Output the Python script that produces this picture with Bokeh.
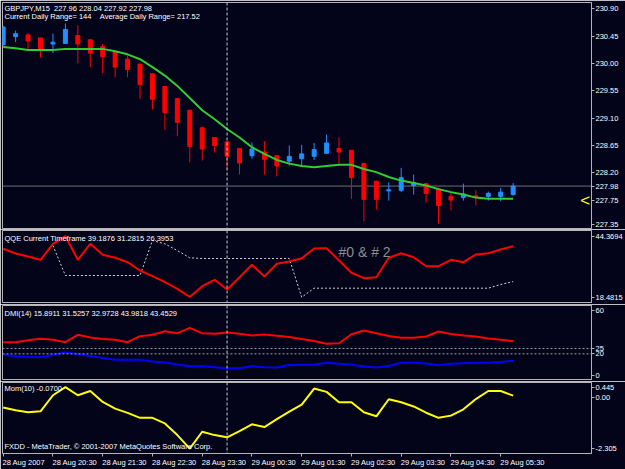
from bokeh.plotting import figure
from bokeh.layouts import column
from bokeh.models import (ColumnDataSource, Range1d, FixedTicker, Span, Label)
from bokeh.core.properties import value
from bokeh.embed import file_html
from bokeh.resources import INLINE

# ---------------- data ----------------
date_ticks = [0, 4, 8, 12, 16, 20, 24, 28, 32, 36, 40]
date_labels = ["28 Aug 2007", "28 Aug 20:30", "28 Aug 21:30", "28 Aug 22:30", "28 Aug 23:30",
               "29 Aug 00:30", "29 Aug 01:30", "29 Aug 02:30", "29 Aug 03:30", "29 Aug 04:30",
               "29 Aug 05:30"]
day_separator = 18  # 29 Aug 00:00

opens = [230.31, 230.44, 230.47, 230.42, 230.32, 230.33, 230.46, 230.39, 230.28, 230.19, 230.07,
         229.99, 229.83, 229.62, 229.42, 229.23, 228.94, 228.78, 228.71, 228.60, 228.48, 228.54,
         228.48, 228.39, 228.43, 228.47, 228.52, 228.60, 228.57, 228.35, 228.06, 227.90, 227.91,
         227.99, 228.02, 227.93, 227.81, 227.79, 227.82, 227.81, 227.81, 227.84]
highs = [230.62, 230.54, 230.50, 230.42, 230.49, 230.66, 230.63, 230.39, 230.32, 230.21, 230.13,
         229.99, 229.83, 229.62, 229.42, 229.23, 228.96, 228.78, 228.71, 228.60, 228.70, 228.72,
         228.48, 228.65, 228.66, 228.69, 228.83, 228.78, 228.57, 228.35, 228.06, 228.04, 228.28,
         228.17, 228.02, 227.95, 227.88, 228.02, 227.91, 227.89, 227.95, 228.03]
lows = [230.29, 230.35, 230.24, 230.10, 230.17, 230.32, 230.00, 229.94, 229.84, 229.77, 229.77,
        229.42, 229.24, 228.91, 228.80, 228.37, 228.40, 228.53, 228.25, 228.17, 228.43, 228.17,
        228.14, 228.32, 228.32, 228.41, 228.51, 228.35, 227.77, 227.40, 227.59, 227.74, 227.88,
        227.84, 227.71, 227.36, 227.58, 227.74, 227.66, 227.74, 227.73, 227.82]
closes = [230.60, 230.49, 230.37, 230.24, 230.35, 230.56, 230.32, 230.17, 230.11, 229.94, 229.90,
          229.65, 229.41, 229.19, 229.03, 228.63, 228.59, 228.65, 228.47, 228.36, 228.59, 228.42,
          228.31, 228.47, 228.51, 228.58, 228.69, 228.54, 228.12, 227.76, 227.76, 227.92, 228.12,
          228.04, 227.86, 227.66, 227.75, 227.85, 227.81, 227.86, 227.88, 227.98]
ma = [230.27, 230.25, 230.22, 230.22, 230.22, 230.24, 230.24, 230.24, 230.24, 230.20, 230.15,
      230.07, 229.94, 229.80, 229.63, 229.43, 229.23, 229.08, 228.92, 228.78, 228.62, 228.51,
      228.41, 228.35, 228.31, 228.29, 228.31, 228.33, 228.33, 228.26, 228.21, 228.13, 228.07,
      228.03, 227.99, 227.93, 227.88, 227.84, 227.79, 227.77, 227.77, 227.77]
bid_price = 227.98
price_ticks = [230.90, 230.45, 230.00, 229.55, 229.10, 228.65, 228.20, 227.75, 227.35]
price_tick_labels = ["230.90", "230.45", "230.00", "229.55", "229.10", "228.65", "228.20",
                     "227.75", "227.35"]
bid_label = "227.98"
arrow_index = 46.8
arrow_price = 227.74

nan = float("nan")
qqe_main = [39.02, 37.03, 35.75, 34.35, 41.14, 44.37, 34.35, 41.14, 36.48, 35.20, 33.34, 29.81,
            27.39, 24.85, 22.05, 18.60, 23.15, 25.87, 21.75, 26.97, 32.23, 27.27, 32.66, 33.63,
            35.03, 39.15, 39.28, 34.06, 28.84, 26.55, 26.97, 35.20, 37.16, 35.46, 31.64, 31.64,
            34.35, 33.34, 36.60, 37.16, 38.73, 40.13]
qqe_trail = [nan, nan, nan, nan, 40.42, 27.69, 27.69, 27.69, 27.69, 27.69, 27.69, 27.69, 42.55,
             41.14, 38.30, 35.20, 34.91, 34.91, 34.91, 34.91, 34.91, 34.91, 34.91, 34.91, 18.48,
             22.30, 22.30, 22.30, 22.30, 22.30, 22.30, 22.30, 22.30, 22.30, 22.30, 22.30, 22.30,
             22.30, 22.30, 22.30, 23.87, 25.14]
qqe_ticks = [44.3694, 18.4815]
qqe_tick_labels = ["44.3694", "18.4815"]

dmi_red = [30.75, 30.75, 32.59, 33.89, 32.96, 30.75, 37.58, 35.09, 33.70, 32.96, 30.75, 36.29,
           37.58, 40.90, 39.06, 44.04, 39.06, 38.50, 39.70, 38.50, 36.93, 37.86, 36.75, 35.55,
           33.70, 31.86, 29.27, 29.82, 38.04, 41.55, 39.06, 36.47, 34.81, 34.81, 36.01, 40.63,
           38.32, 36.93, 36.01, 34.16, 32.96, 31.67]
dmi_blue = [19.11, 17.82, 17.36, 16.90, 19.11, 21.24, 19.85, 18.01, 16.16, 14.50, 14.50, 14.50,
            12.93, 12.00, 10.16, 8.59, 8.59, 7.66, 6.74, 6.74, 8.59, 7.57, 7.39, 9.70, 9.88, 9.88,
            11.73, 10.80, 9.88, 8.31, 7.39, 8.77, 11.73, 11.73, 11.08, 9.42, 10.80, 11.27, 11.73,
            11.73, 12.47, 13.57]
dmi_levels = [25, 20]
dmi_ticks = [60, 25, 20, 0]

mom = [-0.47, -0.59, -0.68, -0.64, 0.08, 0.445, 0.08, 0.27, -0.22, -0.52, -0.71, -0.93, -0.93,
       -1.18, -1.70, -2.305, -1.55, -1.70, -1.80, -1.52, -1.22, -1.34, -0.99, -0.65, -0.34, 0.38,
       0.23, -0.23, -0.23, -0.68, -0.86, -0.10, -0.23, -0.42, -0.70, -0.93, -0.83, -0.55, -0.09,
       0.27, 0.27, 0.06]
mom_ticks = [0.445, 0, -2.305]
mom_tick_labels = ["0.445", "0.00", "-2.305"]

header1 = "GBPJPY,M15\u00a0\u00a0227.96 228.04 227.92 227.98"
header2 = "Current Daily Range= 144\u00a0\u00a0\u00a0\u00a0Average Daily Range= 217.52"
qqe_title = "QQE Current Timeframe 39.1876 31.2815 26.3953"
qqe_note = "#0 & # 2"
dmi_title = "DMI(14) 15.8911 31.5257 32.9728 43.9818 43.4529"
mom_title = "Mom(10) -0.0700"
footer = "FXDD - MetaTrader, \u00a9 2001-2007 MetaQuotes Software Corp."

# ---------------- style ----------------
BG = "#03031a"
FRAME = "#b4b4b4"
TXT = "#ffffff"
FONT = "Liberation Sans"
UP = "#1e90ff"
DOWN = "#ff0000"
W = 625
x_range = Range1d(-0.056, 47.3)
idx = list(range(len(opens)))

# approximate Arial/Liberation advance widths (em) for left-aligning date labels
_adv = {c: 0.556 for c in "0123456789ug"}
_adv.update({" ": 0.278, ":": 0.278, "A": 0.667})


def left_aligned(s, first=False):
    if first:  # label at the canvas edge is clamped into view by Bokeh
        return "\u00a0" + s
    w = sum(_adv.get(c, 0.556) for c in s)
    return "\u00a0" * int(round(w / 0.278)) + s


def make_fig(height, yr, top, bottom, bottom_axis=False):
    p = figure(width=W, height=height, x_range=x_range, y_range=yr,
               output_backend="svg", toolbar_location=None,
               x_axis_location="below" if bottom_axis else None,
               y_axis_location="right")
    p.background_fill_color = BG
    p.border_fill_color = BG
    p.outline_line_color = FRAME
    p.outline_line_width = 1
    p.min_border_left = 2
    p.min_border_right = 31
    p.min_border_top = top
    p.min_border_bottom = bottom
    p.grid.visible = False
    ax = p.yaxis[0]
    ax.axis_line_color = FRAME
    ax.major_tick_line_color = FRAME
    ax.major_tick_out = 3
    ax.major_tick_in = 0
    ax.minor_tick_line_color = None
    ax.major_label_standoff = 1
    ax.major_label_text_color = TXT
    ax.major_label_text_font = FONT
    ax.major_label_text_font_size = "7.5px"
    p.add_layout(Span(location=day_separator, dimension="height", line_color="#c8c8c8",
                      line_dash="3 2", line_width=1))
    return p


def add_label(p, text, x, y, size="7.5px", color=TXT):
    p.add_layout(Label(x=x, y=y, x_units="screen", y_units="screen", text=text,
                       text_color=color, text_font=FONT, text_font_size=size,
                       text_baseline="middle"))


# ---------------- main price panel ----------------
p1 = make_fig(229, Range1d(227.281, 231.004), 2, 1)
p1.yaxis.ticker = FixedTicker(ticks=price_ticks + [bid_price])
ov = {t: s for t, s in zip(price_ticks, price_tick_labels)}
ov[bid_price] = bid_label
p1.yaxis.major_label_overrides = ov
p1.add_layout(Span(location=bid_price, dimension="width", line_color="#707070", line_width=1,
                   level="underlay"))
colors = [UP if c >= o else DOWN for o, c in zip(opens, closes)]
src = ColumnDataSource(dict(x=idx, o=opens, h=highs, l=lows, c=closes,
                            top=[max(o, c) for o, c in zip(opens, closes)],
                            bot=[min(o, c) for o, c in zip(opens, closes)],
                            color=colors))
p1.segment(x0="x", y0="l", x1="x", y1="h", color="color", line_width=1, source=src)
p1.vbar(x="x", top="top", bottom="bot", width=0.32, fill_color="color", line_color="color",
        line_width=1, source=src)
p1.line(idx, ma, line_color="#32cd32", line_width=2)
p1.text(x=[arrow_index], y=[arrow_price], text=["<"], text_color="#ffff00",
        text_font=value(FONT), text_font_size="17px", text_align="center",
        text_baseline="middle")
add_label(p1, header1, 2, 220.5)
add_label(p1, header2, 2, 211.7)

# ---------------- QQE panel ----------------
p2 = make_fig(75, Range1d(16.23, 46.79), 1, 2)
p2.yaxis.ticker = FixedTicker(ticks=qqe_ticks)
p2.yaxis.major_label_overrides = {t: s for t, s in zip(qqe_ticks, qqe_tick_labels)}
p2.line(idx, qqe_trail, line_color="#d0d0d0", line_width=1, line_dash="2 2")
p2.line(idx, qqe_main, line_color="#ff0000", line_width=2)
add_label(p2, qqe_title, 2, 64)
add_label(p2, qqe_note, 336, 51, size="14px", color="#8c8c8c")

# ---------------- DMI panel ----------------
p3 = make_fig(77, Range1d(-3.69, 64.64), 1, 2)
p3.yaxis.ticker = FixedTicker(ticks=dmi_ticks)
for lv in dmi_levels:
    p3.add_layout(Span(location=lv, dimension="width", line_color="#a0a0a0",
                       line_dash="2 2", line_width=1))
p3.line(idx, dmi_red, line_color="#ff0000", line_width=2)
p3.line(idx, dmi_blue, line_color="#0000ff", line_width=2)
add_label(p3, dmi_title, 2, 66.3)

# ---------------- Momentum panel ----------------
p4 = make_fig(88, Range1d(-2.522, 0.649), 1, 14, bottom_axis=True)
p4.yaxis.ticker = FixedTicker(ticks=mom_ticks)
p4.yaxis.major_label_overrides = {t: s for t, s in zip(mom_ticks, mom_tick_labels)}
p4.line(idx, mom, line_color="#ffff00", line_width=2)
add_label(p4, mom_title, 2, 65)
add_label(p4, footer, 2, 7)
xa = p4.xaxis[0]
xa.ticker = FixedTicker(ticks=date_ticks)
xa.major_label_overrides = {t: left_aligned(s, i == 0)
                            for i, (t, s) in enumerate(zip(date_ticks, date_labels))}
xa.axis_line_color = FRAME
xa.major_tick_line_color = FRAME
xa.major_tick_out = 3
xa.major_tick_in = 0
xa.minor_tick_line_color = None
xa.major_label_standoff = 1
xa.major_label_text_color = TXT
xa.major_label_text_font = FONT
xa.major_label_text_font_size = "7.5px"

layout = column(p1, p2, p3, p4, spacing=0)
html = file_html(layout, INLINE)
open("out.html", "w").write(html)
